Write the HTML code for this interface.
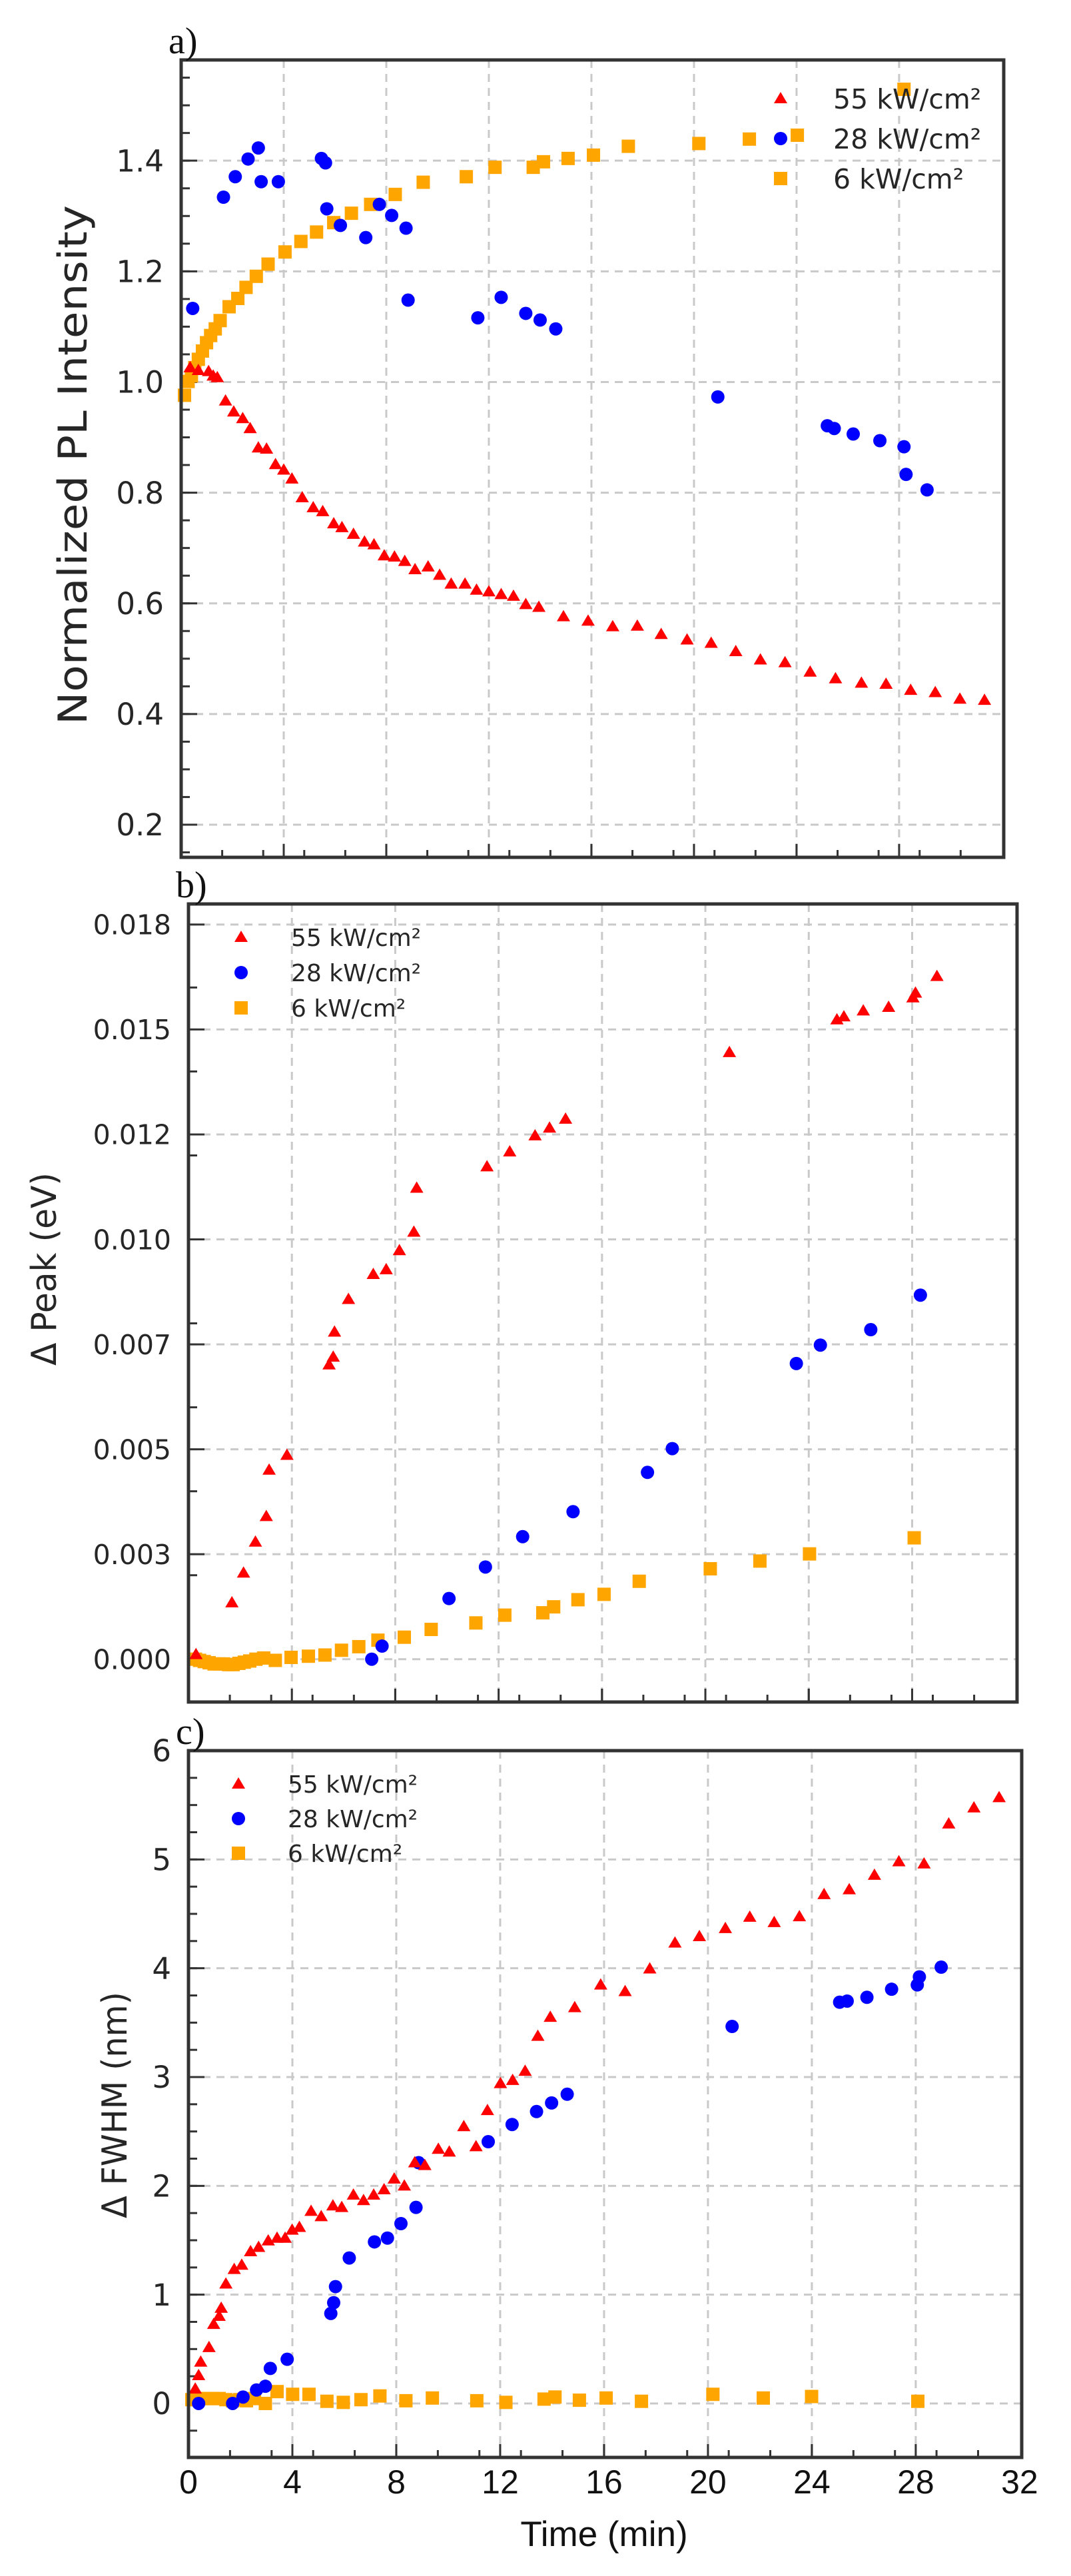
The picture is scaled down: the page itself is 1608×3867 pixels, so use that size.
<!DOCTYPE html>
<html><head><meta charset="utf-8"><style>
html,body{margin:0;padding:0;background:#fff;}
svg{display:block;}
text{font-family:"DejaVu Sans","Liberation Sans",sans-serif;fill:#262626;}
</style></head><body>
<svg id="fig" width="1608" height="3867" viewBox="0 0 1608 3867" xmlns="http://www.w3.org/2000/svg"></svg>
<script>
// ---- Panel a data (Normalized PL Intensity) ----
const aRedT=[0.35,0.67,1.07,1.25,1.41,1.73,2.05,2.4,2.69,3.01,3.33,3.68,4.0,4.32,4.72,5.15,5.52,5.95,6.27,6.72,7.15,7.52,7.92,8.32,8.72,9.12,9.63,10.08,10.53,11.07,11.52,12.0,12.48,12.96,13.44,13.95,14.91,15.87,16.83,17.79,18.72,19.73,20.67,21.63,22.59,23.55,24.53,25.52,26.53,27.49,28.45,29.41,30.37,31.33];
const aRedV=[1.026,1.021,1.019,1.011,1.008,0.966,0.946,0.934,0.916,0.881,0.879,0.851,0.841,0.825,0.791,0.773,0.766,0.744,0.737,0.725,0.711,0.706,0.686,0.684,0.676,0.661,0.666,0.651,0.635,0.635,0.624,0.621,0.616,0.613,0.598,0.593,0.576,0.568,0.558,0.559,0.544,0.534,0.528,0.513,0.498,0.493,0.476,0.464,0.456,0.454,0.443,0.439,0.427,0.425];
const aBlueT=[0.45,1.65,2.11,2.61,3.01,3.12,3.79,5.47,5.63,5.68,6.21,7.2,7.73,8.21,8.77,8.85,11.57,12.48,13.44,14.0,14.61,20.93,25.2,25.47,26.21,27.25,28.19,28.27,29.09];
const aBlueV=[1.133,1.334,1.371,1.403,1.423,1.362,1.362,1.404,1.396,1.313,1.283,1.261,1.321,1.301,1.278,1.148,1.116,1.153,1.124,1.112,1.096,0.973,0.921,0.916,0.906,0.894,0.883,0.833,0.805];
const aOrT=[0.13,0.27,0.4,0.53,0.67,0.83,0.99,1.15,1.33,1.52,1.87,2.21,2.53,2.93,3.39,4.05,4.67,5.28,5.95,6.64,7.39,8.35,9.44,11.12,12.24,13.73,14.13,15.09,16.08,17.44,20.19,22.16,24.03,28.19];
const aOrV=[0.976,1.001,1.011,1.026,1.041,1.056,1.071,1.084,1.096,1.111,1.136,1.151,1.171,1.191,1.213,1.235,1.254,1.271,1.288,1.305,1.321,1.339,1.361,1.371,1.388,1.388,1.398,1.404,1.41,1.426,1.431,1.439,1.446,1.529];
const aYTicks=[0.2,0.4,0.6,0.8,1.0,1.2,1.4];
const aYLabels=["0.2","0.4","0.6","0.8","1.0","1.2","1.4"];
// ---- Panel b data (Delta Peak) ----
const bRedT=[0.29,1.68,2.13,2.59,3.01,3.12,3.81,5.44,5.6,5.65,6.19,7.15,7.65,8.16,8.72,8.83,11.55,12.43,13.41,13.97,14.59,20.93,25.09,25.36,26.11,27.09,28.03,28.13,28.96];
const bRedV=[0.000113,0.001346,0.002055,0.002792,0.003401,0.004506,0.00486,0.007014,0.007198,0.007794,0.008573,0.009168,0.009281,0.009735,0.010174,0.011223,0.011733,0.012087,0.01247,0.012654,0.012867,0.014454,0.015233,0.015304,0.015446,0.015531,0.015757,0.01587,0.016267];
const bBlueT=[7.09,7.49,10.08,11.49,12.93,14.88,17.76,18.72,23.52,24.45,26.4,28.32];
const bBlueV=[0,0.000312,0.001445,0.002196,0.002919,0.003514,0.00445,0.005016,0.007043,0.007482,0.00785,0.008672];
const bOrT=[0.27,0.43,0.61,0.8,0.99,1.17,1.36,1.55,1.73,1.95,2.16,2.37,2.61,2.91,3.36,3.97,4.64,5.28,5.92,6.59,7.33,8.35,9.39,11.12,12.24,13.71,14.13,15.07,16.08,17.44,20.19,22.11,24.03,28.08];
const bOrV=[0,-0.000028,-0.000057,-0.000085,-0.000113,-0.000113,-0.000113,-0.000128,-0.000128,-0.000099,-0.000071,-0.000043,0,0.000028,-0.000028,0.000043,0.000071,0.000099,0.000213,0.000298,0.000453,0.000524,0.000709,0.000864,0.001049,0.001105,0.001247,0.001417,0.001545,0.001856,0.002154,0.002338,0.002508,0.002891];
const bYTicks=[0,0.0025,0.005,0.0075,0.01,0.0125,0.015,0.0175];
const bYLabels=["0.000","0.003","0.005","0.007","0.010","0.012","0.015","0.018"];
// ---- Panel c data (Delta FWHM) ----
const cRedT=[0.26,0.39,0.47,0.79,0.97,1.18,1.26,1.44,1.76,2.05,2.39,2.7,3.07,3.41,3.72,3.99,4.27,4.72,5.11,5.56,5.9,6.35,6.74,7.13,7.53,7.92,8.31,8.71,9.1,9.62,10.04,10.6,11.07,11.51,12.01,12.48,12.96,13.45,13.93,14.87,15.87,16.81,17.76,18.73,19.67,20.67,21.61,22.55,23.52,24.47,25.44,26.41,27.35,28.32,29.27,30.24,31.21];
const cRedV=[0.134,0.257,0.381,0.515,0.728,0.802,0.876,1.099,1.233,1.272,1.396,1.436,1.495,1.52,1.52,1.594,1.619,1.767,1.718,1.817,1.802,1.916,1.866,1.916,1.965,2.064,2.0,2.213,2.188,2.337,2.312,2.545,2.361,2.693,2.941,2.97,3.054,3.376,3.55,3.639,3.847,3.787,3.995,4.233,4.292,4.366,4.47,4.421,4.475,4.678,4.723,4.856,4.98,4.96,5.327,5.475,5.569];
const cBlueT=[0.39,1.7,2.1,2.62,2.96,3.15,3.8,5.48,5.59,5.66,6.19,7.16,7.66,8.18,8.76,8.86,11.54,12.46,13.4,13.98,14.58,20.93,25.07,25.36,26.12,27.07,28.06,28.14,28.98];
const cBlueV=[0,0,0.059,0.124,0.158,0.322,0.406,0.827,0.926,1.074,1.337,1.485,1.52,1.653,1.802,2.213,2.406,2.564,2.683,2.762,2.842,3.465,3.688,3.698,3.733,3.807,3.847,3.921,4.01];
const cOrT=[0.13,0.31,0.52,0.73,0.94,1.18,1.44,1.7,1.97,2.23,2.54,2.96,3.41,4.01,4.64,5.33,5.96,6.64,7.37,8.37,9.39,11.1,12.22,13.69,14.11,15.05,16.08,17.44,20.19,22.13,23.99,28.08];
const cOrV=[0.035,0.035,0.045,0.045,0.045,0.045,0.035,0.025,0.035,0.025,0.045,0,0.109,0.084,0.084,0.02,0.01,0.035,0.069,0.025,0.05,0.025,0.01,0.04,0.059,0.03,0.05,0.02,0.084,0.05,0.064,0.02];
const cYTicks=[0,1,2,3,4,5,6];
const cYLabels=["0","1","2","3","4","5","6"];
const xTicks=[0,4,8,12,16,20,24,28,32];
const xLabels=["0","4","8","12","16","20","24","28","32"];
const legendLabels=["55 kW/cm²","28 kW/cm²","6 kW/cm²"];

const NS="http://www.w3.org/2000/svg";
const fig=document.getElementById('fig');
function mk(tag,attrs,parent){const e=document.createElementNS(NS,tag);for(const k in attrs)e.setAttribute(k,attrs[k]);(parent||fig).appendChild(e);return e;}

function marker(g,kind,x,y,name){
  let e;
  if(kind==='tri'){e=mk('polygon',{points:`${x},${y-10} ${x+10},${y+7} ${x-10},${y+7}`,fill:'#ff0000'},g);}
  else if(kind==='dot'){e=mk('circle',{cx:x,cy:y,r:10,fill:'#0000ff'},g);}
  else {e=mk('rect',{x:x-10,y:y-10,width:20,height:20,fill:'#ffa500'},g);}
  
  
}

function panel(P){
  const g=mk('g',{});
  
  
  const X=t=>P.x0+(t-P.xmin)/(P.xmax-P.xmin)*(P.x1-P.x0);
  const Y=v=>P.y1-(v-P.ymin)/(P.ymax-P.ymin)*(P.y1-P.y0);
  // grid
  const grid=mk('g',{stroke:'#c9c9c9','stroke-width':3,'stroke-dasharray':'12,9'},g);
  
  
  xTicks.forEach(t=>{if(t>0&&t<32){mk('line',{x1:X(t),x2:X(t),y1:P.y0,y2:P.y1},grid);}});
  P.yt.forEach(v=>{const y=Y(v);if(y>P.y0+3&&y<P.y1-3)mk('line',{x1:P.x0,x2:P.x1,y1:y,y2:y},grid);});
  // ticks
  const tk=mk('g',{stroke:'#333','stroke-width':3},g);
  
  
  for(let i=1;i<20;i++){const t=i*1.6;const x=X(t);const maj=Math.abs(t/4-Math.round(t/4))<1e-6;mk('line',{x1:x,x2:x,y1:P.y1,y2:P.y1-(maj?20:11)},tk);}
  xTicks.forEach(t=>{if(t>0&&t<32)mk('line',{x1:X(t),x2:X(t),y1:P.y1,y2:P.y1-20},tk);});
  for(let v=P.minStart;v<P.ymax;v+=P.minStep){const y=Y(v);if(y>P.y0+2&&y<P.y1-2)mk('line',{x1:P.x0,x2:P.x0+13,y1:y,y2:y},tk);}
  P.yt.forEach(v=>{const y=Y(v);if(y>P.y0+2&&y<P.y1-2)mk('line',{x1:P.x0,x2:P.x0+24,y1:y,y2:y},tk);});
  // y labels
  P.yt.forEach((v,i)=>{const t=mk('text',{x:P.lx,y:Y(v)+P.fs*0.36,'font-size':P.fs,'text-anchor':'end'},g);t.textContent=P.yl[i];
    
    });
  // series
  const sets=[['sq',P.oT,P.oV,'6kw'],['dot',P.bT,P.bV,'28kw'],['tri',P.rT,P.rV,'55kw']];
  sets.forEach(s=>{const sg=mk('g',{},g);
    
    
    s[1].forEach((t,i)=>marker(sg,s[0],X(t),Y(s[2][i]),'point-'+s[3]));});
  // frame
  const fr=mk('rect',{x:P.x0,y:P.y0,width:P.x1-P.x0,height:P.y1-P.y0,fill:'none',stroke:'#333','stroke-width':5},g);
  
  
  // legend
  const lg=mk('g',{},g);
  
  
  ['tri','dot','sq'].forEach((k,i)=>{const yy=P.legY+i*P.legDy;marker(lg,k,P.legMX,yy,'legend-marker');
    const t=mk('text',{x:P.legTX,y:yy+P.legFs*0.36,'font-size':P.legFs},lg);t.textContent=legendLabels[i];
    
    });
  // panel label
  const pl=mk('text',{x:P.x0-19,y:P.y0-10,'font-size':56,style:'font-family:"Liberation Serif",serif;fill:#111'},g);pl.textContent=P.tag;
  
  
  // y title
  const yt=mk('text',{x:0,y:0,'font-size':P.tfs,'text-anchor':'middle',transform:`translate(${P.tx},${P.ty}) rotate(-90)`,textLength:P.tlen,lengthAdjust:'spacingAndGlyphs'},g);
  yt.textContent=P.title;
  
  
  return {X,Y,g};
}

panel({name:'panel-a',tag:'a)',x0:272,x1:1507,y0:90,y1:1287,xmin:0,xmax:32.08,ymin:0.141,ymax:1.582,
  yt:aYTicks,yl:aYLabels,minStart:0.15,minStep:0.05,lx:246,fs:45,
  rT:aRedT,rV:aRedV,bT:aBlueT,bV:aBlueV,oT:aOrT,oV:aOrV,
  legMX:1172,legTX:1251,legY:148,legDy:60,legFs:41,
  title:'Normalized PL Intensity',tx:130,ty:698,tfs:60,tlen:780});
panel({name:'panel-b',tag:'b)',x0:283,x1:1527,y0:1357,y1:2555,xmin:0,xmax:32.06,ymin:-0.00102,ymax:0.01799,
  yt:bYTicks,yl:bYLabels,minStart:0.002,minStep:0.002,lx:257,fs:41,
  rT:bRedT,rV:bRedV,bT:bBlueT,bV:bBlueV,oT:bOrT,oV:bOrV,
  legMX:362,legTX:437,legY:1407,legDy:53,legFs:36,
  title:'Δ Peak (eV)',tx:84,ty:1905,tfs:52,tlen:290});
const c=panel({name:'panel-c',tag:'c)',x0:283,x1:1534,y0:2628,y1:3689,xmin:0,xmax:32.08,ymin:-0.496,ymax:6.0,
  yt:cYTicks,yl:cYLabels,minStart:-0.25,minStep:0.25,lx:257,fs:45,
  rT:cRedT,rV:cRedV,bT:cBlueT,bV:cBlueV,oT:cOrT,oV:cOrV,
  legMX:358,legTX:432,legY:2678,legDy:52,legFs:36,
  title:'Δ FWHM (nm)',tx:190,ty:3160,tfs:52,tlen:340});
// x tick labels & title for panel c
xTicks.forEach((t,i)=>{const e=mk('text',{x:c.X(t),y:3743,'font-size':50,'text-anchor':'middle',style:'font-family:"Liberation Sans",sans-serif;fill:#111'},c.g);e.textContent=xLabels[i];
  
  });
const xt=mk('text',{x:907,y:3822,'font-size':53,'text-anchor':'middle',style:'font-family:"Liberation Sans",sans-serif;fill:#111'},c.g);
xt.textContent='Time (min)';


</script>
</body></html>
